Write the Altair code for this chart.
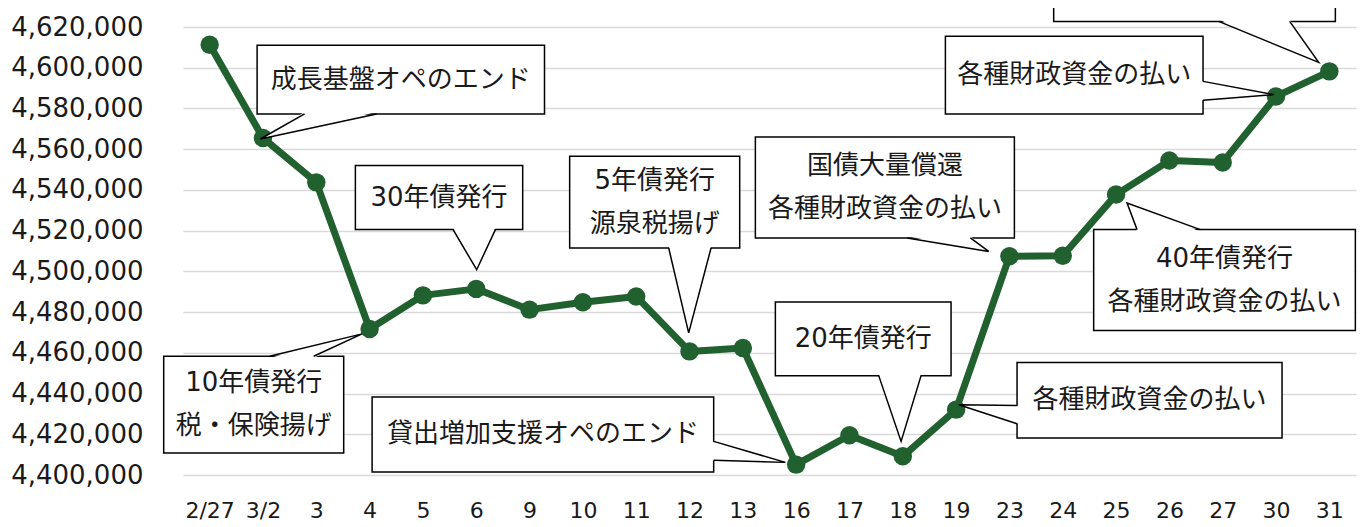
import json
import altair as alt
import pandas as pd

# ---- data -------------------------------------------------------------
dates = ["2/27", "3/2", "3", "4", "5", "6", "9", "10", "11", "12", "13",
         "16", "17", "18", "19", "23", "24", "25", "26", "27", "30", "31"]
balances = [4611300, 4565500, 4543700, 4471700, 4488200, 4491400, 4481200,
            4484800, 4487700, 4460700, 4462400, 4405100, 4419500, 4409200,
            4432100, 4507400, 4507700, 4537700, 4554400, 4553500, 4585900,
            4598200]
y_ticks = list(range(4400000, 4620001, 20000))

# callout texts and boxes (in data units: x = category index, y = value)
ann_text = ["成長基盤オペのエンド", "10年債発行\n税・保険揚げ", "30年債発行",
            "5年債発行\n源泉税揚げ", "国債大量償還\n各種財政資金の払い", "20年債発行",
            "貸出増加支援オペのエンド", "各種財政資金の払い",
            "40年債発行\n各種財政資金の払い", "各種財政資金の払い", ""]
box_x0 = [0.89, -0.862, 2.733, 6.752, 10.235, 10.610, 3.047, 15.143, 16.580, 13.799, 15.830]
box_x1 = [6.28, 2.514, 5.871, 9.941, 15.093, 13.905, 9.453, 20.113, 21.488, 18.631, 21.113]
box_top = [4611000, 4458300, 4552000, 4556500, 4566000, 4485000, 4438300, 4455300, 4520500, 4615400, 4690000]
box_bot = [4577300, 4410800, 4520500, 4511500, 4516400, 4448800, 4401500, 4418200, 4471000, 4577300, 4622750]
# tails: edge ("h" = base on top/bottom edge, "v" = base on left/right edge),
# base end 1, base end 2 (along the edge), tip x, tip y
tail_edge = ["h", "h", "h", "h", "h", "h", "v", "v", "h", "v", "h"]
tail_b0 = [1.78, 1.126, 4.566, 8.609, 13.080, 12.548, 4416500, 4434100, 17.394, 4593300, 18.924]
tail_b1 = [3.13, 1.951, 5.359, 9.404, 14.268, 13.343, 4407200, 4425200, 18.581, 4584000, 20.256]
tail_tx = [0.95, 2.859, 5.008, 8.984, 14.611, 12.968, 10.798, 14.048, 17.206, 19.956, 20.800]
tail_ty = [4565000, 4469300, 4500800, 4469800, 4509800, 4416500, 4406200, 4434500, 4533600, 4586800, 4602600]

GREEN = "#21602f"
FONT = "DejaVu Sans, Noto Sans CJK JP"
LINE_H = 43          # px between text lines
PX_PER_UNIT = 448 / 220000

# ---- tables ----------------------------------------------------------
line_df = pd.DataFrame({"i": list(range(len(dates))), "v": balances})

cys = []
for t, a, b in zip(ann_text, box_top, box_bot):
    n = t.count("\n") + 1
    cys.append((a + b) / 2 + (n - 1) / 2 * LINE_H / PX_PER_UNIT)
box_df = pd.DataFrame({"x0": box_x0, "x1": box_x1, "y0": box_top, "y1": box_bot,
                       "t": ann_text,
                       "cx": [(a + b) / 2 for a, b in zip(box_x0, box_x1)],
                       "cy": cys})

h_area, v_area, outline = [], [], []
for k in range(len(ann_text)):
    top, bot, x0, x1 = box_top[k], box_bot[k], box_x0[k], box_x1[k]
    tx, ty = tail_tx[k], tail_ty[k]
    if tail_edge[k] == "h":
        ey = bot if ty < bot else top
        inset = 900 if ty < ey else -900
        h_area.append({"id": k, "y": ey + inset, "x": tail_b0[k], "x2": tail_b1[k]})
        h_area.append({"id": k, "y": ty, "x": tx, "x2": tx})
        pts = [(tail_b0[k], ey), (tx, ty), (tail_b1[k], ey)]
    else:
        ex = x1 if tx > x1 else x0
        inset = -0.035 if tx > ex else 0.035
        v_area.append({"id": k, "x": ex + inset, "y": tail_b0[k], "y2": tail_b1[k]})
        v_area.append({"id": k, "x": tx, "y": ty, "y2": ty})
        pts = [(ex, tail_b0[k]), (tx, ty), (ex, tail_b1[k])]
    for o, (px, py) in enumerate(pts):
        outline.append({"id": k, "o": o, "x": px, "y": py})

h_df = pd.DataFrame(h_area)
v_df = pd.DataFrame(v_area)
o_df = pd.DataFrame(outline)

# ---- scales & axes ------------------------------------------------------
xs = alt.Scale(domain=[-0.5, len(dates) - 0.5], nice=False, zero=False)
ys = alt.Scale(domain=[4400000, 4620000], nice=False, zero=False)

x_axis = alt.Axis(values=list(range(len(dates))), labelExpr=f"{json.dumps(dates)}[datum.value]",
                  grid=False, domain=False, ticks=False, tickSize=0, labelOverlap=False,
                  labelFlush=False, labelBound=False, labelFontSize=22, labelPadding=35,
                  labelBaseline="middle", title=None)
y_axis = alt.Axis(values=y_ticks, format=",d", grid=True, gridColor="#d9d9d9", gridWidth=1.5,
                  domain=False, ticks=False, tickSize=0, labelFontSize=26, labelPadding=40,
                  labelOverlap=False, labelFlush=False, title=None)


def X(f):
    return alt.X(f, scale=xs, axis=x_axis, title=None)


def Y(f):
    return alt.Y(f, scale=ys, axis=y_axis, title=None)


line = alt.Chart(line_df).mark_line(color=GREEN, strokeWidth=7, strokeJoin="round").encode(
    x=X("i:Q"), y=Y("v:Q"))
dots = alt.Chart(line_df).mark_circle(color=GREEN, size=340, opacity=1).encode(
    x=X("i:Q"), y=Y("v:Q"))
boxes = alt.Chart(box_df).mark_rect(fill="white", stroke="black", strokeWidth=1.5).encode(
    x=X("x0:Q"), x2="x1:Q", y=Y("y0:Q"), y2="y1:Q")
tail_h = alt.Chart(h_df).mark_area(fill="white", orient="horizontal", opacity=1).encode(
    y=Y("y:Q"), x=X("x:Q"), x2="x2:Q", detail="id:N")
tail_v = alt.Chart(v_df).mark_area(fill="white", orient="vertical", opacity=1).encode(
    x=X("x:Q"), y=Y("y:Q"), y2="y2:Q", detail="id:N")
tail_line = alt.Chart(o_df).mark_line(color="black", strokeWidth=1.5).encode(
    x=X("x:Q"), y=Y("y:Q"), detail="id:N", order="o:Q")
texts = alt.Chart(box_df).mark_text(fontSize=26, lineBreak="\n", lineHeight=LINE_H, align="center",
                                    baseline="middle", color="#1a1a1a", font=FONT).encode(
    x=X("cx:Q"), y=Y("cy:Q"), text="t:N")

chart = alt.layer(line, dots, boxes, tail_h, tail_v, tail_line, texts).properties(
    width=1173, height=448,
    autosize=alt.AutoSizeParams(type="none"),
    padding={"left": 175, "top": 19, "right": 1, "bottom": 52},
).configure_view(strokeWidth=0).configure_axis(
    labelFont=FONT, labelColor="#1a1a1a"
)

chart.save("out.html", embed_options={"renderer": "svg", "actions": False})
